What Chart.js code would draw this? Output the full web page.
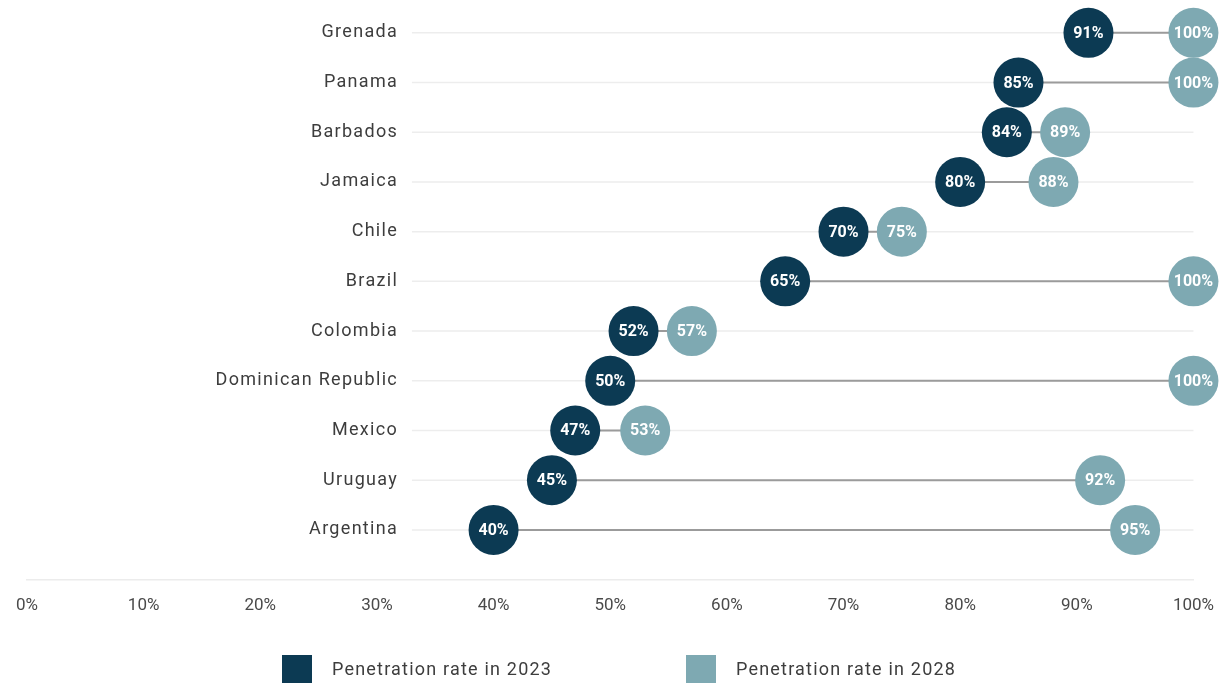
<!DOCTYPE html>
<html>
<head>
<meta charset="utf-8">
<script src="https://cdn.jsdelivr.net/npm/chart.js@4"></script>
<style>
  html, body { margin: 0; padding: 0; background: #ffffff; }
  #wrap { width: 1230px; height: 688px; position: relative; }
</style>
</head>
<body>
<div id="wrap"><canvas id="chart"></canvas></div>
<script>
// Countries, top to bottom
const categories = [
  'Grenada', 'Panama', 'Barbados', 'Jamaica', 'Chile', 'Brazil',
  'Colombia', 'Dominican Republic', 'Mexico', 'Uruguay', 'Argentina'
];
// Penetration rate (%) per country
const rate2023 = [91, 85, 84, 80, 70, 65, 52, 50, 47, 45, 40];
const rate2028 = [100, 100, 89, 88, 75, 100, 57, 100, 53, 92, 95];
// X axis tick values (%)
const xTickValues = [0, 10, 20, 30, 40, 50, 60, 70, 80, 90, 100];

const seriesNames = ['Penetration rate in 2023', 'Penetration rate in 2028'];
const DARK = '#0c3a53';
const LIGHT = '#7ea9b2';
const FONT = 'Roboto, "Liberation Sans", sans-serif';

const toPoints = vals => vals.map((v, i) => ({ x: v, y: i }));

// Faint row guide lines, the connector between both years, and the country names
const rowDecor = {
  id: 'rowDecor',
  beforeDatasetsDraw(chart) {
    const { ctx, chartArea, scales: { x, y } } = chart;
    const m0 = chart.getDatasetMeta(0).data;
    const m1 = chart.getDatasetMeta(1).data;
    ctx.save();
    categories.forEach((name, i) => {
      const py = y.getPixelForValue(i);
      ctx.strokeStyle = '#ededed';
      ctx.lineWidth = 1.5;
      ctx.beginPath();
      ctx.moveTo(x.getPixelForValue(33), py);
      ctx.lineTo(chartArea.right, py);
      ctx.stroke();

      ctx.strokeStyle = '#9b9b9b';
      ctx.lineWidth = 2;
      ctx.beginPath();
      ctx.moveTo(m0[i].x, py);
      ctx.lineTo(m1[i].x, py);
      ctx.stroke();

      ctx.fillStyle = '#3d3d3d';
      ctx.font = '18px ' + FONT;
      ctx.letterSpacing = '1.3px';
      ctx.textAlign = 'right';
      ctx.textBaseline = 'middle';
      ctx.fillText(name, x.getPixelForValue(31.7) + 1.3, py);
    });
    ctx.restore();
  }
};

// Value labels inside each dot
const dotLabels = {
  id: 'dotLabels',
  afterDatasetsDraw(chart) {
    const { ctx } = chart;
    ctx.save();
    ctx.fillStyle = '#ffffff';
    ctx.font = 'bold 16px ' + FONT;
    ctx.textAlign = 'center';
    ctx.textBaseline = 'middle';
    chart.data.datasets.forEach((ds, d) => {
      chart.getDatasetMeta(d).data.forEach((pt, i) => {
        ctx.fillText(ds.data[i].x + '%', pt.x, pt.y + 1);
      });
    });
    ctx.restore();
  }
};

// Legend with square swatches under the axis
const squareLegend = {
  id: 'squareLegend',
  afterDraw(chart) {
    const { ctx } = chart;
    const items = [
      { box: 282, text: 332 },
      { box: 686, text: 736 }
    ];
    ctx.save();
    ctx.font = '18px ' + FONT;
    ctx.letterSpacing = '1.2px';
    ctx.textBaseline = 'middle';
    ctx.textAlign = 'left';
    chart.data.datasets.forEach((ds, d) => {
      const it = items[d];
      ctx.fillStyle = ds.backgroundColor;
      ctx.fillRect(it.box, 655, 30, 28);
      ctx.fillStyle = '#3d3d3d';
      ctx.fillText(ds.label, it.text, 670);
    });
    ctx.restore();
  }
};

const dotStyle = {
  borderWidth: 0,
  pointRadius: 25,
  pointHoverRadius: 25,
  clip: false
};

new Chart(document.getElementById('chart'), {
  type: 'scatter',
  data: {
    datasets: [
      Object.assign({ label: seriesNames[0], data: toPoints(rate2023), backgroundColor: DARK }, dotStyle),
      Object.assign({ label: seriesNames[1], data: toPoints(rate2028), backgroundColor: LIGHT }, dotStyle)
    ]
  },
  options: {
    responsive: true,
    maintainAspectRatio: false,
    animation: false,
    layout: { autoPadding: false, padding: { top: 8, left: 25, right: 36, bottom: 56 } },
    plugins: {
      legend: { display: false },
      tooltip: { enabled: false }
    },
    scales: {
      x: {
        type: 'linear',
        min: 0,
        max: 100,
        afterBuildTicks: axis => { axis.ticks = xTickValues.map(v => ({ value: v })); },
        ticks: {
          callback: v => v + '%',
          color: '#4a4a4a',
          font: { family: FONT, size: 17 },
          padding: 16,
          maxRotation: 0
        },
        grid: { display: false, drawTicks: false },
        border: { color: '#ececec', width: 1.5 }
      },
      y: {
        type: 'linear',
        min: -0.5,
        max: 11,
        reverse: true,
        display: false
      }
    }
  },
  plugins: [rowDecor, dotLabels, squareLegend]
});
</script>
</body>
</html>
